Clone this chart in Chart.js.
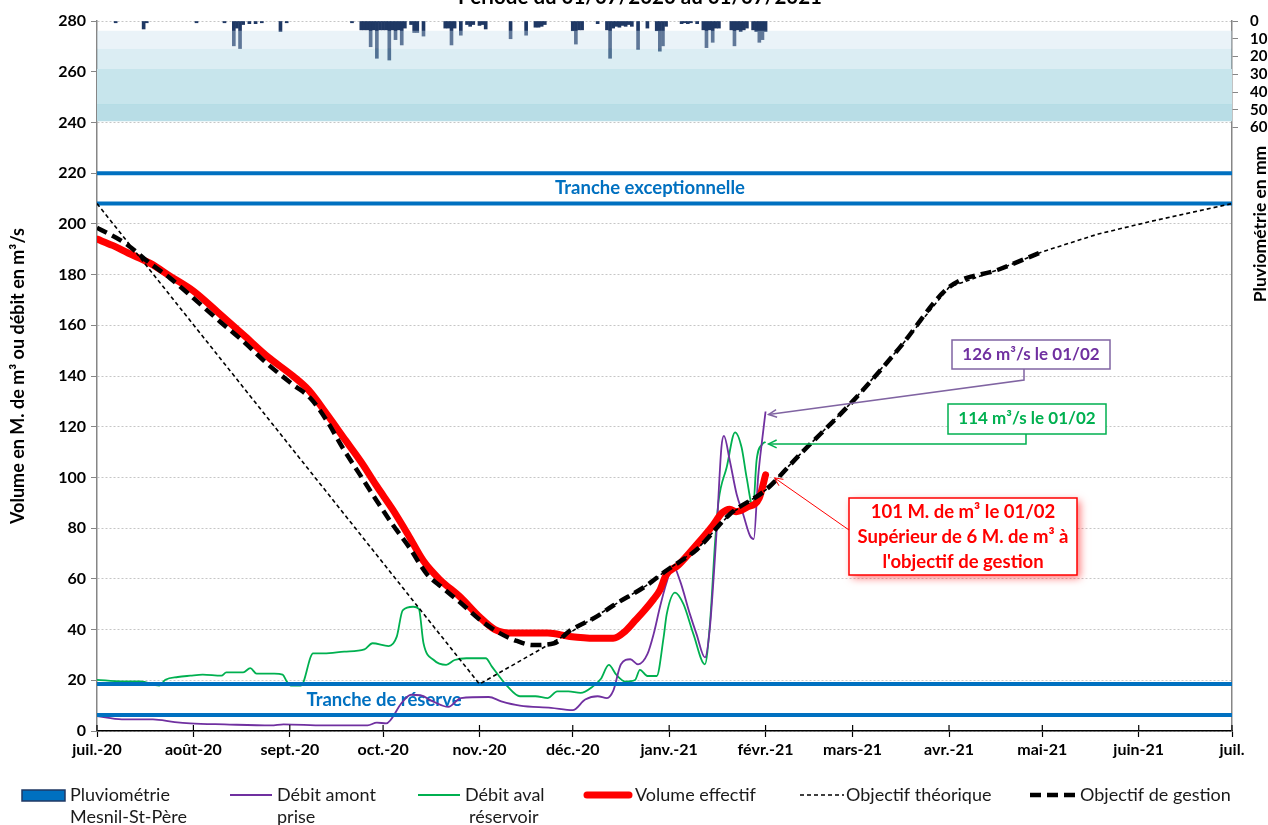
<!DOCTYPE html>
<html>
<head>
<meta charset="utf-8">
<script src="https://cdn.jsdelivr.net/npm/chart.js@4.4.0/dist/chart.umd.min.js"></script>
<style>
  html, body { margin: 0; padding: 0; background: #fff; }
</style>
</head>
<body>
<canvas id="chart" width="1268" height="825"></canvas>
<script>
// Axis ticks (day index from 01/07/2020)
const monthDays = [0, 31, 62, 92, 123, 153, 184, 215, 243, 274, 304, 335, 365];
const monthLabels = ['juil.-20', 'août-20', 'sept.-20', 'oct.-20', 'nov.-20', 'déc.-20',
                     'janv.-21', 'févr.-21', 'mars-21', 'avr.-21', 'mai-21', 'juin-21', 'juil.'];
const rainTicks = [0, 10, 20, 30, 40, 50, 60];

// Pluviométrie (mm)
const rainDays = [6,15,16,32,41,44,45,46,47,49,51,53,59,61,82,85,86,87,88,89,90,91,92,93,94,95,96,97,98,99,
                  101,102,103,105,112,113,114,115,117,119,120,121,123,124,125,133,138,141,142,143,144,
                  153,154,155,156,161,164,165,166,167,168,169,170,171,172,174,177,180,181,182,183,
                  188,189,190,191,193,195,196,197,198,199,200,204,205,206,207,208,209,211,212,213,214,215];
const rainMm = [1,4.5,1,1,1,14,4,15.5,2,1.5,1.5,1,6,1,1,5,5,5,14.5,5,21,5,5,5,22,5,10.5,5,13.5,4,
                2,6.5,6.5,8.5,4,4,13.5,4,8,2,3,2,2.5,2,4.5,10,8,3.5,3.5,3,2,
                5.5,13,5,5,1.5,5,21,4,3,3.5,2.5,3,2,3,16,4,5.5,17,14,3,
                1.5,1,1.5,1,1.5,5,15,5,12,4,4,5,14,5,6,5,4,5,6,12,10.5,6];

// Volume effectif (M. de m3)
const volumeDays = [0,5,10,17,24,31,39,47,55,63,68,74,80,85,90,95,100,105,110,117,123,128,134,145,152,
                    160,166,170,173,176,179,181,183,187,193,198,201,203.5,205.5,209,213,215];
const volumeVals = [194,191.5,188.5,184.5,179,173.5,165,156.3,147.5,140,134.5,124.8,114.5,106,96.5,87.5,
                    77.5,67,60,52.6,45,40,38.6,38.6,37.3,36.6,36.6,39.5,43.5,47.5,52,55.5,61.5,65.5,
                    73.7,81,86,87.5,86.5,88.2,92,101];

// Objectif de gestion
const gestionDays = [0,9,17,23.5,31,39.5,47,54.5,63,68.5,74,79,84.5,90,95,100.5,106,111,117,123,129.5,
                     135,140,147,152,160.5,166,176.5,183,193,203.5,215,226,243,258,274,290,304];
const gestionVals = [198.5,192.4,184.5,178.6,170.7,161.5,153.7,145.1,136.6,131.4,122.2,111.7,101.2,90.7,
                     81.5,72.3,62,56.6,50.5,44,38.6,35.5,33.9,34.6,39.5,45,49.5,57.2,63.2,71.7,85.5,95,
                     109,130,151,175,182,189];

// Objectif théorique
const theoDays = [0,123,153,166,176.5,183,193,203.5,215,226,243,258,274,290,304,322,339,365];
const theoVals = [208,18.5,39.5,49.5,57.2,63.2,71.7,85.5,95,109,130,151,175,182,189,196,201,208];

// Débit amont prise (m3/s)
const amontDays = [0,8,18,25,30,41,56,60,73,87,90,93,98,101,104,108,113,117,126,130,136,146,153,157,161,
                   164,166,168.5,171.5,174,177,179,181,183,185.3,187.5,190.7,192.8,195.5,197,199.2,
                   200.8,201.6,203.5,205.7,207.8,210,211.2,212.6,214,215];
const amontVals = [5.9,4.6,4.6,3.5,3,2.6,2.2,2.6,2.2,2.2,3.3,3,11.1,14.3,14.1,11.7,9.5,13,13.4,11.7,10,
                   9.1,8.2,12.4,13.7,13,15.8,26.3,28.3,26.3,30.3,38.2,48.7,57.9,65.1,59.2,46,38.2,29,
                   39.5,77.6,111.8,116.4,106.6,93.4,85.5,77,75.7,100,115.8,126];

// Débit aval réservoir (m3/s)
const avalDays = [0,8,14,20,22,26,30,34,40,41.6,47,49.3,51.3,57,59.7,61,62.3,65.6,69.5,73,79.5,86,88.6,
                  93.8,96.4,98.3,101.7,103.5,105,108.3,112.3,115,118.8,125,127,132,136,141,145,148,
                  151.6,155.5,159.5,162,164.6,167,170,173,174.6,177,180,182.2,183.2,185.9,188.6,191.8,
                  195.5,197.1,198.8,199.9,202.5,205.2,207.3,208.9,211,212.1,214,215];
const avalVals = [20.2,19.6,19.6,17.9,20.2,21.3,21.8,22.2,21.8,23.1,23.1,24.8,22.6,22.6,22.2,19.6,17.9,
                  17.9,30.6,30.6,31.3,32.2,34.6,33.5,37.2,47.6,49,48.2,34.6,28,26.1,28,28.7,28.7,25.4,
                  17.6,13.7,13.7,13,15.6,15.6,15,17.6,20.5,26.1,22.2,19.5,20.1,24.1,21.7,21.7,36.8,46,
                  54.6,50,38.2,26.3,42.1,75,90.8,104,117.8,111.8,100,88.2,106.6,113.2,114];

// Tranches (M. de m3) and rain classes (mm)
const trancheLevels = [220, 208, 18.5, 6.3];
const bandLimits = [5.5, 15.7, 27, 47, 56.5];
const bandFills = ['rgba(200,223,237,0.38)', 'rgba(160,208,224,0.38)', '#C7E5EC', '#B8DDE6'];

const FONT = 'Lato, "Open Sans", sans-serif';
Chart.defaults.font.family = FONT;

function pts(xs, ys) {
    return xs.map((x, i) => ({ x: x, y: ys[i] }));
}

const datasets = [];

datasets.push({
    type: 'bar', label: 'Pluviométrie', data: pts(rainDays, rainMm), yAxisID: 'y2',
    backgroundColor: '#1F3864', barThickness: 3, order: 8
});

for (let i = 0; i < bandFills.length; i++) {
    datasets.push({
        type: 'line', data: [{ x: 0, y: bandLimits[i + 1] }, { x: 365, y: bandLimits[i + 1] }],
        yAxisID: 'y2', fill: { value: bandLimits[i] }, backgroundColor: bandFills[i],
        borderColor: 'transparent', borderWidth: 0, pointRadius: 0, order: 7
    });
}
datasets.push({
    type: 'line', data: [{ x: 0, y: bandLimits[3] }, { x: 365, y: bandLimits[3] }], yAxisID: 'y2',
    borderColor: '#8ECBD9', borderWidth: 1.2, pointRadius: 0, fill: false, order: 7
});

datasets.push({
    type: 'line', label: 'Débit aval', data: pts(avalDays, avalVals), yAxisID: 'y',
    borderColor: '#00B050', borderWidth: 1.8, pointRadius: 0, fill: false,
    cubicInterpolationMode: 'monotone', order: 5
});
datasets.push({
    type: 'line', label: 'Débit amont', data: pts(amontDays, amontVals), yAxisID: 'y',
    borderColor: '#7030A0', borderWidth: 1.8, pointRadius: 0, fill: false,
    cubicInterpolationMode: 'monotone', order: 4
});

trancheLevels.forEach(level => {
    datasets.push({
        type: 'line', data: [{ x: 0, y: level }, { x: 365, y: level }], yAxisID: 'y',
        borderColor: '#0070C0', borderWidth: 4, pointRadius: 0, fill: false, order: 3
    });
});

datasets.push({
    type: 'line', label: 'Volume effectif', data: pts(volumeDays, volumeVals), yAxisID: 'y',
    borderColor: '#FF0000', borderWidth: 7, pointRadius: 0, fill: false,
    cubicInterpolationMode: 'monotone', borderCapStyle: 'round', order: 2
});
datasets.push({
    type: 'line', label: 'Objectif théorique', data: pts(theoDays, theoVals), yAxisID: 'y',
    borderColor: '#000', borderWidth: 1.6, borderDash: [4, 3], pointRadius: 0, fill: false,
    tension: 0, order: 1
});
datasets.push({
    type: 'line', label: 'Objectif de gestion', data: pts(gestionDays, gestionVals), yAxisID: 'y',
    borderColor: '#000', borderWidth: 4.5, borderDash: [11, 6], pointRadius: 0, fill: false,
    cubicInterpolationMode: 'monotone', order: 0
});

function arrowHead(ctx, x, y, fromX, fromY) {
    const a = Math.atan2(y - fromY, x - fromX);
    const s = 9;
    ctx.beginPath();
    ctx.moveTo(x - s * Math.cos(a - 0.45), y - s * Math.sin(a - 0.45));
    ctx.lineTo(x, y);
    ctx.lineTo(x - s * Math.cos(a + 0.45), y - s * Math.sin(a + 0.45));
    ctx.stroke();
}

const overlay = {
    id: 'overlay',
    beforeDatasetsDraw(chart) {
        const { ctx, scales: { y } } = chart;
        ctx.save();
        ctx.font = 'bold 18.5px ' + FONT;
        ctx.fillStyle = '#0070C0';
        ctx.textAlign = 'center';
        ctx.textBaseline = 'middle';
        ctx.fillText('Tranche exceptionnelle', 650,
            (y.getPixelForValue(trancheLevels[0]) + y.getPixelForValue(trancheLevels[1])) / 2);
        ctx.fillText('Tranche de réserve', 384,
            (y.getPixelForValue(trancheLevels[2]) + y.getPixelForValue(trancheLevels[3])) / 2);
        ctx.restore();
    },
    afterDraw(chart) {
        const { ctx, scales: { x, y }, chartArea } = chart;
        ctx.save();

        // title, cut at the top edge
        ctx.font = 'bold 20.5px ' + FONT;
        ctx.fillStyle = '#000';
        ctx.textAlign = 'center';
        ctx.textBaseline = 'alphabetic';
        ctx.fillText('Période du 01/07/2020 au 01/07/2021', 640, 4);

        // inner part of x tick marks
        ctx.strokeStyle = '#000';
        ctx.lineWidth = 1.2;
        monthDays.forEach(d => {
            const px = x.getPixelForValue(d);
            ctx.beginPath();
            ctx.moveTo(px, chartArea.bottom);
            ctx.lineTo(px, chartArea.bottom - 6);
            ctx.stroke();
        });

        // right axis title
        ctx.save();
        ctx.translate(1260, 224);
        ctx.rotate(-Math.PI / 2);
        ctx.font = 'bold 17.5px ' + FONT;
        ctx.textAlign = 'center';
        ctx.textBaseline = 'middle';
        ctx.fillText('Pluviométrie en mm', 0, 0);
        ctx.restore();

        // annotations
        const tipX = x.getPixelForValue(215) + 3;
        ctx.font = 'bold 17px ' + FONT;
        ctx.textAlign = 'center';
        ctx.textBaseline = 'middle';
        ctx.lineWidth = 1.5;

        // purple
        let ty = y.getPixelForValue(amontVals[amontVals.length - 1]) + 3;
        ctx.strokeStyle = '#8064A2';
        ctx.fillStyle = '#fff';
        ctx.fillRect(952, 340, 158, 29);
        ctx.strokeRect(952, 340, 158, 29);
        ctx.fillStyle = '#7030A0';
        ctx.fillText('126 m³/s le 01/02', 1031, 355);
        ctx.beginPath();
        ctx.moveTo(1024, 369); ctx.lineTo(1024, 380); ctx.lineTo(tipX, ty);
        ctx.stroke();
        arrowHead(ctx, tipX, ty, 1024, 380);

        // green
        ty = y.getPixelForValue(avalVals[avalVals.length - 1]) + 2;
        ctx.strokeStyle = '#00B050';
        ctx.fillStyle = '#fff';
        ctx.fillRect(948, 404, 158, 30);
        ctx.strokeRect(948, 404, 158, 30);
        ctx.fillStyle = '#00B050';
        ctx.fillText('114 m³/s le 01/02', 1027, 419);
        ctx.beginPath();
        ctx.moveTo(1026, 434); ctx.lineTo(1026, ty); ctx.lineTo(tipX, ty);
        ctx.stroke();
        arrowHead(ctx, tipX, ty, 1026, ty);

        // red
        ty = y.getPixelForValue(volumeVals[volumeVals.length - 1]) + 3;
        ctx.strokeStyle = '#FF0000';
        ctx.lineWidth = 1;
        ctx.beginPath();
        ctx.moveTo(849, 530); ctx.lineTo(tipX + 6, ty);
        ctx.stroke();
        arrowHead(ctx, tipX + 6, ty, 849, 530);
        ctx.save();
        ctx.shadowColor = 'rgba(255,0,0,0.55)';
        ctx.shadowBlur = 8;
        ctx.shadowOffsetX = 3;
        ctx.shadowOffsetY = 3;
        ctx.fillStyle = '#fff';
        ctx.fillRect(849, 498, 228, 77);
        ctx.restore();
        ctx.lineWidth = 1.5;
        ctx.strokeRect(849, 498, 228, 77);
        ctx.fillStyle = '#FF0000';
        ctx.font = 'bold 18.5px ' + FONT;
        ctx.fillText('101 M. de m³ le 01/02', 963, 512);
        ctx.fillText('Supérieur de 6 M. de m³ à', 963, 537);
        ctx.fillText("l'objectif de gestion", 963, 562);

        // legend
        ctx.textAlign = 'left';
        ctx.font = '18px ' + FONT;
        const ly = 795;
        ctx.fillStyle = '#0070C0';
        ctx.fillRect(22, 790, 43, 11);
        ctx.strokeStyle = '#1F3864';
        ctx.lineWidth = 1.5;
        ctx.strokeRect(22, 790, 43, 11);
        ctx.fillStyle = '#1a1a1a';
        ctx.fillText('Pluviométrie', 70, ly);
        ctx.fillText('Mesnil-St-Père', 70, ly + 22);

        const legLine = (x0, x1, color, width, dash) => {
            ctx.save();
            ctx.strokeStyle = color;
            ctx.lineWidth = width;
            ctx.setLineDash(dash);
            ctx.beginPath();
            ctx.moveTo(x0, ly); ctx.lineTo(x1, ly);
            ctx.stroke();
            ctx.restore();
        };
        legLine(230, 272, '#7030A0', 2, []);
        ctx.fillText('Débit amont', 277, ly);
        ctx.fillText('prise', 277, ly + 22);
        legLine(418, 460, '#00B050', 2, []);
        ctx.fillText('Débit aval', 465, ly);
        ctx.fillText('réservoir', 469, ly + 22);
        ctx.save();
        ctx.lineCap = 'round';
        legLine(587, 629, '#FF0000', 7, []);
        ctx.restore();
        ctx.fillText('Volume effectif', 635, ly);
        legLine(800, 844, '#000', 1.6, [4, 3]);
        ctx.fillText('Objectif théorique', 846, ly);
        legLine(1030, 1077, '#000', 4.5, [11, 6]);
        ctx.fillText('Objectif de gestion', 1080, ly);

        ctx.restore();
    }
};

new Chart(document.getElementById('chart'), {
    type: 'line',
    data: { datasets: datasets },
    options: {
        responsive: false,
        animation: false,
        layout: { padding: { top: 18, left: 0, right: 0, bottom: 0 } },
        plugins: { legend: { display: false }, tooltip: { enabled: false } },
        scales: {
            x: {
                type: 'linear', min: 0, max: 365, offset: false,
                afterFit: s => { s.height = 94; },
                afterBuildTicks: s => { s.ticks = monthDays.map(v => ({ value: v })); },
                ticks: {
                    autoSkip: false, maxRotation: 0, padding: 3, color: '#000',
                    font: { size: 16, weight: 'bold' },
                    callback: (v, i) => monthLabels[i]
                },
                grid: { offset: false, drawOnChartArea: false, tickLength: 6, color: '#000', tickWidth: 1.2 },
                border: { color: '#000', width: 1.5 }
            },
            y: {
                position: 'left', min: 0, max: 280,
                afterFit: s => { s.width = 97; },
                ticks: { stepSize: 20, padding: 5, color: '#000', font: { size: 16, weight: 'bold' } },
                grid: { color: '#C6C6C6', tickLength: 6, tickColor: '#868686' },
                border: { color: '#868686', width: 1.5, dash: [2, 2] },
                title: {
                    display: true, text: 'Volume en M. de m³ ou débit en m³/s', color: '#000',
                    font: { size: 18, weight: 'bold' }, padding: { top: 7, bottom: 0 }
                }
            },
            y2: {
                position: 'right', min: 0, max: 400, reverse: true,
                afterFit: s => { s.width = 36; },
                afterBuildTicks: s => { s.ticks = rainTicks.map(v => ({ value: v })); },
                ticks: { padding: 12, color: '#000', font: { size: 15, weight: 'bold' } },
                grid: { drawOnChartArea: false, tickLength: 6, color: '#868686' },
                border: { color: '#868686', width: 1.5 }
            }
        }
    },
    plugins: [overlay]
});
</script>
</body>
</html>
